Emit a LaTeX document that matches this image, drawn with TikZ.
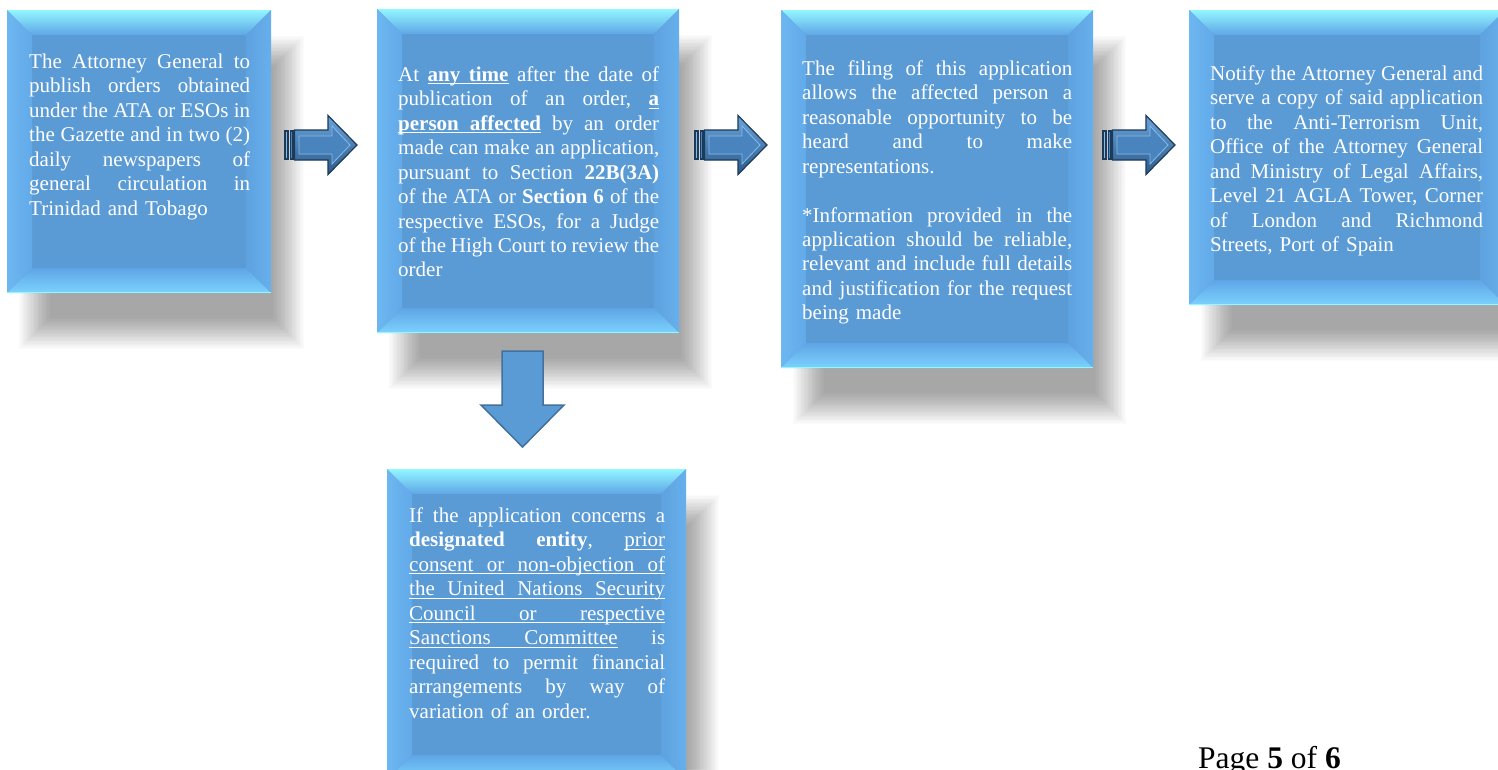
\documentclass[tikz,border=0pt]{standalone}
\usepackage{fontspec}
\setmainfont{Liberation Serif}
\usetikzlibrary{calc}
\pgfdeclarelayer{bg}
\pgfdeclarelayer{shadow}
\pgfsetlayers{bg,shadow,main}
\hbadness=10000
\hfuzz=20pt
\frenchspacing
\definecolor{face}{HTML}{5B9BD5}
\definecolor{bevTa}{HTML}{92F6FF}
\definecolor{bevTm}{HTML}{72C2F4}
\definecolor{bevTb}{HTML}{5FA6E6}
\definecolor{bevLa}{HTML}{6DB7F1}
\definecolor{bevLb}{HTML}{62A9E8}
\definecolor{bevRa}{HTML}{5EA2E0}
\definecolor{bevRb}{HTML}{67B0EC}
\definecolor{bevBa}{HTML}{5FA5E6}
\definecolor{bevBb}{HTML}{7BD2FD}
\definecolor{cyanline}{HTML}{92F8FF}
\definecolor{arrdark}{HTML}{1C3A5A}
\definecolor{arrtop}{HTML}{6AA4DA}
\definecolor{arrbot}{HTML}{2C5A8A}
\definecolor{arrmid}{HTML}{4A84BE}
\definecolor{arrlight}{HTML}{86BBE8}
\definecolor{downfill}{HTML}{5B9BD5}
\definecolor{downline}{HTML}{41719C}
% a justified line: every space stretches equally
\newcommand\jl[1]{\hbox to\hsize{\spaceskip=\fontdimen2\font plus 1fil minus \fontdimen4\font
  \xspaceskip=\spaceskip\strut#1}}
\newcommand\lastline[1]{\hbox{\strut#1}}
% underlined word and underlined (stretchable) space
\newcommand\ulw[1]{\setbox0\hbox{#1}\rlap{\rule[-3pt]{\wd0}{1.1pt}}\box0\relax}
\newcommand\uls{\leaders\hrule height -1.9pt depth 3pt\hskip\fontdimen2\font plus 1fil minus \fontdimen4\font\relax}
% soft drop shadow under a box node
\newcommand\softshadow[1]{%
  \begin{pgfonlayer}{shadow}
  \foreach \i in {0,...,23}{%
    \fill[black, opacity=0.0175]
      ($(#1.north west)+(12+1.35*\i, 26+1.35*\i)$) rectangle ($(#1.south east)+(33-1.35*\i, 56-1.35*\i)$);
  }
  \end{pgfonlayer}}
\newcommand\bevel[1]{%
  \shade[top color=bevTa, middle color=bevTm, bottom color=bevTb]
    (#1.north west) -- (#1.north east) -- ($(#1.north east)+(-25,25)$) -- ($(#1.north west)+(25,25)$) -- cycle;
  \shade[left color=bevLa, right color=bevLb]
    (#1.north west) -- ($(#1.north west)+(25,25)$) -- ($(#1.south west)+(25,-25)$) -- (#1.south west) -- cycle;
  \shade[left color=bevRa, right color=bevRb]
    (#1.north east) -- ($(#1.north east)+(-25,25)$) -- ($(#1.south east)+(-25,-25)$) -- (#1.south east) -- cycle;
  \shade[top color=bevBa, bottom color=bevBb]
    (#1.south west) -- ($(#1.south west)+(25,-25)$) -- ($(#1.south east)+(-25,-25)$) -- (#1.south east) -- cycle;
  \draw[cyanline, line width=1.2pt] ($(#1.south west)+(0,-0.6)$) -- ($(#1.south east)+(0,-0.6)$);
  \softshadow{#1}%
}
\tikzset{
  x=1pt, y=-1pt,
  box/.style={rectangle, draw=none, fill=face, inner sep=0pt, outer sep=0pt, anchor=north west},
  txt/.style={anchor=north west, inner sep=0pt, text=white, font=\fontsize{21}{24.45}\selectfont},
  striparrow/.pic={
    \fill[arrdark] (0,-15) rectangle (4.5,15);
    \fill[arrlight] (1.5,-13) rectangle (3,13);
    \fill[arrdark] (5.5,-15) rectangle (9.5,15);
    \fill[arrmid] (6.8,-13) rectangle (8.2,13);
    \shadedraw[top color=arrtop, bottom color=arrbot, draw=arrdark, line width=1.2pt, line join=miter]
      (10.5,-15) -- (44,-15) -- (44,-29.5) -- (73,0) -- (44,29.5) -- (44,15) -- (10.5,15) -- cycle;
    \filldraw[fill=arrmid, draw=arrlight, line width=0.8pt]
      (15,-9) -- (48,-9) -- (48,-19) -- (66,0) -- (48,19) -- (48,9) -- (15,9) -- cycle;
  },
}
\begin{document}
\begin{tikzpicture}
\useasboundingbox (0,0) rectangle (1498,769);
\clip (0,0) rectangle (1498,769);
\begin{pgfonlayer}{bg}
\fill[white] (0,0) rectangle (1498,769);
\end{pgfonlayer}

% boxes
\node[box, minimum width=264pt, minimum height=283pt] (b1) at (7,10) {};
\node[box, minimum width=302pt, minimum height=324pt] (b2) at (377,9) {};
\node[box, minimum width=312pt, minimum height=358pt] (b3) at (781,10) {};
\node[box, minimum width=316pt, minimum height=295pt] (b4) at (1189,10) {};
\node[box, minimum width=299pt, minimum height=311pt] (b5) at (387,469) {};
\bevel{b1}
\bevel{b2}
\bevel{b3}
\bevel{b4}
\bevel{b5}

% texts
\node[txt, text width=221pt] (t1) at (29,51.2) {%
\jl{The Attorney General to}
\jl{publish orders obtained}
\jl{under the ATA or ESOs in}
\jl{the Gazette and in two (2)}
\jl{daily newspapers of}
\jl{general circulation in}
\lastline{Trinidad and Tobago}};

\node[txt, text width=261pt] (t2) at (398,64) {%
\jl{At \textbf{\ulw{any}\uls\ulw{time}} after the date of}
\jl{publication of an order, \textbf{\ulw{a}}}
\jl{\textbf{\ulw{person}\uls\ulw{affected}\uls}by an order}
\jl{made can make an application,}
\jl{pursuant to Section \textbf{22B(3A)}}
\jl{of the ATA or \textbf{Section 6} of the}
\jl{respective ESOs, for a Judge}
\jl{of the High Court to review the}
\lastline{order}};

\node[txt, text width=270pt] (t3) at (802,58) {%
\jl{The filing of this application}
\jl{allows the affected person a}
\jl{reasonable opportunity to be}
\jl{heard and to make}
\lastline{representations.}
\vskip 24.45pt
\jl{*Information provided in the}
\jl{application should be reliable,}
\jl{relevant and include full details}
\jl{and justification for the request}
\lastline{being made}};

\node[txt, text width=273pt] (t4) at (1210,63) {%
\jl{Notify the Attorney General and}
\jl{serve a copy of said application}
\jl{to the Anti-Terrorism Unit,}
\jl{Office of the Attorney General}
\jl{and Ministry of Legal Affairs,}
\jl{Level 21 AGLA Tower, Corner}
\jl{of London and Richmond}
\lastline{Streets, Port of Spain}};

\node[txt, text width=256pt] (t5) at (409,505.2) {%
\jl{If the application concerns a}
\jl{\textbf{designated entity}, \ulw{prior}}
\jl{\ulw{consent}\uls\ulw{or}\uls\ulw{non-objection}\uls\ulw{of}}
\jl{\ulw{the}\uls\ulw{United}\uls\ulw{Nations}\uls\ulw{Security}}
\jl{\ulw{Council}\uls\ulw{or}\uls\ulw{respective}}
\jl{\ulw{Sanctions}\uls\ulw{Committee} is}
\jl{required to permit financial}
\jl{arrangements by way of}
\lastline{variation of an order.}};

% arrows
\pic at (284,145) {striparrow};
\pic at (694,145) {striparrow};
\pic at (1102,145) {striparrow};
\filldraw[fill=downfill, draw=downline, line width=1.5pt]
  (502,351) -- (543,351) -- (543,405) -- (564,405) -- (522.5,447) -- (481,405) -- (502,405) -- cycle;

% page number
\node[anchor=base west, inner sep=0pt, font=\fontsize{31.5}{36}\selectfont] (pg) at (1198,768) {Page \textbf{5} of \textbf{6}};
\end{tikzpicture}
\end{document}
